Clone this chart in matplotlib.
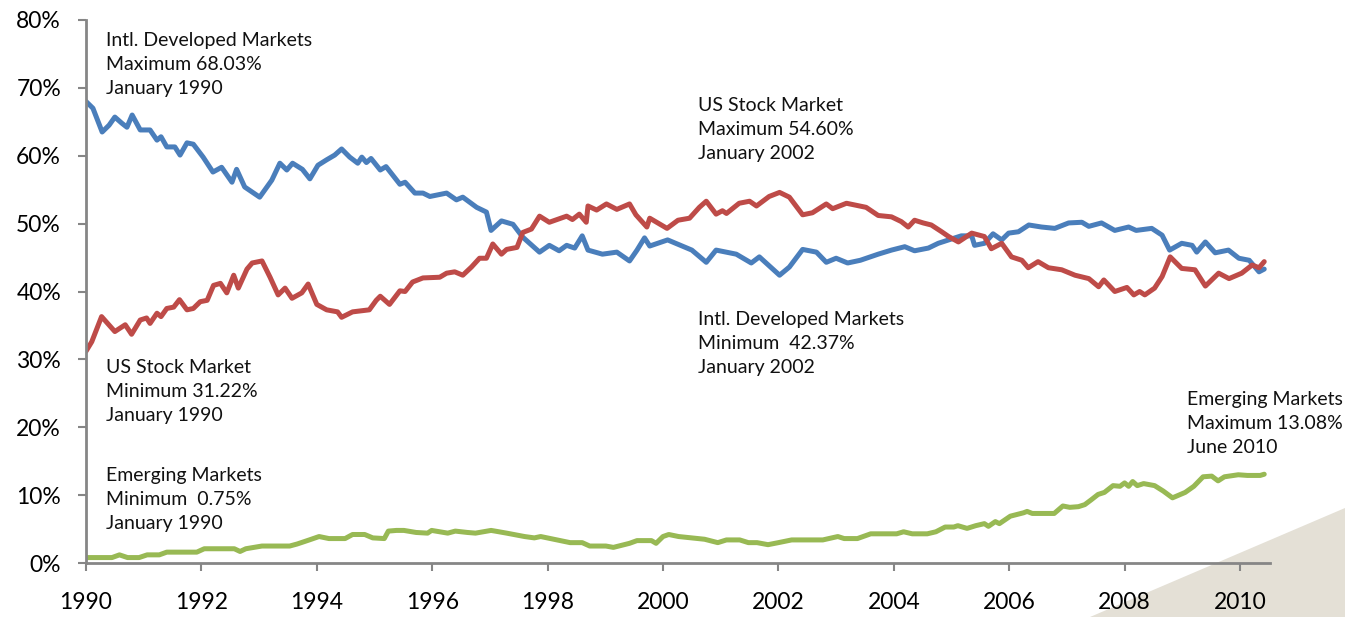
import numpy as np
import matplotlib.pyplot as plt
from matplotlib.patches import Polygon
from matplotlib.ticker import FuncFormatter, MultipleLocator

plt.rcParams['font.family'] = ['Lato', 'DejaVu Sans']

# share of global market cap (%)
intl_years = [1990.00, 1990.12, 1990.28, 1990.40, 1990.50, 1990.62, 1990.71, 1990.80, 1990.94,
              1991.11, 1991.23, 1991.30, 1991.40, 1991.54, 1991.63, 1991.75, 1991.86, 1992.03,
              1992.20, 1992.35, 1992.53, 1992.61, 1992.75, 1993.01, 1993.22, 1993.36, 1993.48,
              1993.58, 1993.75, 1993.88, 1994.02, 1994.17, 1994.31, 1994.43, 1994.57, 1994.71,
              1994.78, 1994.86, 1994.94, 1995.10, 1995.20, 1995.44, 1995.53, 1995.70, 1995.84,
              1995.96, 1996.25, 1996.42, 1996.53, 1996.77, 1996.94, 1997.02, 1997.20, 1997.40,
              1997.57, 1997.86, 1998.03, 1998.20, 1998.33, 1998.47, 1998.60, 1998.70, 1998.95,
              1999.20, 1999.42, 1999.55, 1999.68, 1999.77, 2000.08, 2000.50, 2000.75, 2000.92,
              2001.27, 2001.53, 2001.67, 2002.02, 2002.19, 2002.42, 2002.66, 2002.83, 2003.00,
              2003.20, 2003.42, 2003.73, 2003.96, 2004.19, 2004.36, 2004.60, 2004.77, 2004.95,
              2005.17, 2005.35, 2005.40, 2005.57, 2005.72, 2005.87, 2005.99, 2006.16, 2006.34,
              2006.56, 2006.79, 2007.03, 2007.26, 2007.38, 2007.60, 2007.83, 2008.07, 2008.20,
              2008.47, 2008.65, 2008.78, 2008.99, 2009.17, 2009.25, 2009.40, 2009.57, 2009.80,
              2009.98, 2010.16, 2010.33, 2010.42]
intl_vals = [68.0, 67.0, 63.5, 64.5, 65.7, 64.8, 64.2, 66.0, 63.8,
             63.8, 62.3, 62.8, 61.3, 61.3, 60.1, 61.9, 61.7, 59.8,
             57.6, 58.3, 56.1, 58.0, 55.4, 53.9, 56.4, 58.9, 57.9,
             58.9, 58.0, 56.6, 58.6, 59.4, 60.1, 61.0, 59.8, 58.9,
             59.8, 59.0, 59.6, 57.9, 58.4, 55.8, 56.1, 54.5, 54.5,
             54.0, 54.5, 53.5, 53.9, 52.4, 51.7, 49.0, 50.4, 49.9,
             48.0, 45.8, 46.8, 46.0, 46.8, 46.4, 48.2, 46.1, 45.5,
             45.8, 44.5, 46.1, 47.9, 46.7, 47.6, 46.1, 44.3, 46.1,
             45.5, 44.2, 45.1, 42.4, 43.6, 46.2, 45.8, 44.3, 44.9,
             44.2, 44.6, 45.5, 46.1, 46.6, 46.0, 46.4, 47.1, 47.6,
             48.2, 48.2, 46.8, 47.1, 48.5, 47.6, 48.6, 48.8, 49.8,
             49.5, 49.3, 50.1, 50.2, 49.6, 50.1, 49.0, 49.5, 49.0,
             49.3, 48.3, 46.1, 47.1, 46.8, 45.8, 47.3, 45.7, 46.1,
             44.9, 44.6, 42.9, 43.3]

us_years = [1990.00, 1990.10, 1990.27, 1990.50, 1990.68, 1990.79, 1990.94, 1991.05, 1991.11,
            1991.23, 1991.30, 1991.40, 1991.52, 1991.62, 1991.75, 1991.86, 1991.98, 1992.10,
            1992.21, 1992.33, 1992.44, 1992.56, 1992.64, 1992.79, 1992.88, 1993.05, 1993.19,
            1993.33, 1993.45, 1993.57, 1993.74, 1993.85, 1994.00, 1994.17, 1994.36, 1994.43,
            1994.62, 1994.91, 1995.03, 1995.10, 1995.26, 1995.44, 1995.53, 1995.66, 1995.84,
            1996.13, 1996.25, 1996.39, 1996.53, 1996.68, 1996.82, 1996.94, 1997.05, 1997.20,
            1997.29, 1997.47, 1997.57, 1997.72, 1997.86, 1998.03, 1998.33, 1998.43, 1998.55,
            1998.67, 1998.70, 1998.85, 1999.02, 1999.20, 1999.42, 1999.53, 1999.72, 1999.77,
            2000.07, 2000.26, 2000.46, 2000.63, 2000.75, 2000.92, 2001.03, 2001.10, 2001.32,
            2001.50, 2001.62, 2001.84, 2002.02, 2002.19, 2002.42, 2002.59, 2002.83, 2002.94,
            2003.18, 2003.52, 2003.73, 2003.96, 2004.13, 2004.25, 2004.36, 2004.51, 2004.65,
            2004.83, 2004.95, 2005.12, 2005.35, 2005.57, 2005.69, 2005.87, 2006.04, 2006.22,
            2006.33, 2006.50, 2006.68, 2006.91, 2007.14, 2007.38, 2007.55, 2007.64, 2007.83,
            2008.04, 2008.16, 2008.26, 2008.35, 2008.52, 2008.65, 2008.79, 2008.99, 2009.22,
            2009.40, 2009.63, 2009.81, 2010.03, 2010.21, 2010.33, 2010.42]
us_vals = [31.2, 32.6, 36.3, 34.1, 35.1, 33.7, 35.8, 36.1, 35.3,
           36.8, 36.3, 37.5, 37.7, 38.8, 37.3, 37.5, 38.5, 38.7,
           40.9, 41.2, 39.8, 42.4, 40.5, 43.3, 44.2, 44.5, 42.1,
           39.5, 40.5, 39.0, 39.8, 41.1, 38.1, 37.3, 37.0, 36.2,
           37.0, 37.3, 38.7, 39.3, 38.1, 40.1, 40.0, 41.4, 42.0,
           42.1, 42.7, 42.9, 42.4, 43.6, 44.9, 44.9, 47.0, 45.5,
           46.2, 46.5, 48.7, 49.2, 51.1, 50.2, 51.1, 50.6, 51.4,
           50.2, 52.6, 52.0, 52.9, 52.1, 52.9, 51.3, 49.5, 50.8,
           49.3, 50.5, 50.8, 52.4, 53.3, 51.4, 51.9, 51.5, 53.0,
           53.3, 52.6, 54.0, 54.6, 53.9, 51.3, 51.6, 52.9, 52.2,
           53.0, 52.4, 51.2, 51.0, 50.3, 49.5, 50.5, 50.1, 49.8,
           48.8, 48.1, 47.3, 48.6, 48.1, 46.3, 47.1, 45.1, 44.6,
           43.5, 44.4, 43.5, 43.2, 42.4, 41.9, 40.7, 41.7, 40.0,
           40.6, 39.5, 40.0, 39.5, 40.5, 42.2, 45.1, 43.4, 43.2,
           40.8, 42.7, 41.9, 42.7, 43.9, 43.5, 44.4]

em_years = [1990.00, 1990.45, 1990.58, 1990.72, 1990.92, 1991.06, 1991.27, 1991.40, 1991.92,
            1992.05, 1992.57, 1992.67, 1992.77, 1993.05, 1993.53, 1993.66, 1993.87, 1994.04,
            1994.21, 1994.49, 1994.62, 1994.83, 1994.97, 1995.17, 1995.24, 1995.38, 1995.51,
            1995.72, 1995.92, 1995.99, 1996.27, 1996.40, 1996.61, 1996.75, 1997.02, 1997.09,
            1997.29, 1997.60, 1997.77, 1997.88, 1998.05, 1998.39, 1998.60, 1998.73, 1999.01,
            1999.14, 1999.42, 1999.55, 1999.80, 1999.88, 2000.00, 2000.10, 2000.27, 2000.72,
            2000.95, 2001.10, 2001.33, 2001.48, 2001.63, 2001.82, 2002.00, 2002.23, 2002.77,
            2003.03, 2003.14, 2003.37, 2003.60, 2004.05, 2004.17, 2004.32, 2004.58, 2004.73,
            2004.89, 2005.04, 2005.11, 2005.27, 2005.42, 2005.57, 2005.64, 2005.76, 2005.83,
            2006.02, 2006.25, 2006.31, 2006.40, 2006.78, 2006.93, 2007.05, 2007.20, 2007.31,
            2007.42, 2007.54, 2007.65, 2007.80, 2007.92, 2008.00, 2008.07, 2008.14, 2008.22,
            2008.33, 2008.52, 2008.67, 2008.83, 2009.05, 2009.20, 2009.36, 2009.51, 2009.62,
            2009.73, 2009.89, 2009.97, 2010.13, 2010.35, 2010.42]
em_vals = [0.8, 0.8, 1.2, 0.8, 0.8, 1.2, 1.2, 1.6, 1.6,
           2.1, 2.1, 1.7, 2.1, 2.5, 2.5, 2.8, 3.4, 3.9,
           3.6, 3.6, 4.2, 4.2, 3.7, 3.6, 4.7, 4.8, 4.8,
           4.5, 4.4, 4.8, 4.4, 4.7, 4.5, 4.4, 4.8, 4.7,
           4.4, 3.9, 3.7, 3.9, 3.6, 3.0, 3.0, 2.5, 2.5,
           2.3, 2.9, 3.3, 3.3, 2.9, 3.9, 4.2, 3.9, 3.5,
           3.0, 3.4, 3.4, 3.0, 3.0, 2.7, 3.0, 3.4, 3.4,
           3.9, 3.6, 3.6, 4.3, 4.3, 4.6, 4.3, 4.3, 4.6,
           5.3, 5.3, 5.5, 5.1, 5.5, 5.8, 5.4, 6.1, 5.8,
           6.9, 7.4, 7.6, 7.3, 7.3, 8.4, 8.2, 8.3, 8.6,
           9.3, 10.1, 10.4, 11.4, 11.3, 11.8, 11.3, 12.0, 11.4,
           11.7, 11.4, 10.6, 9.6, 10.4, 11.3, 12.7, 12.8, 12.1,
           12.7, 12.9, 13.0, 12.9, 12.9, 13.08]

year_ticks = list(range(1990, 2011, 2))

notes = [
    (1990.35, 73.5, "Intl. Developed Markets\nMaximum 68.03%\nJanuary 1990"),
    (2000.6, 63.8, "US Stock Market\nMaximum 54.60%\nJanuary 2002"),
    (2000.6, 32.3, "Intl. Developed Markets\nMinimum  42.37%\nJanuary 2002"),
    (1990.35, 25.2, "US Stock Market\nMinimum 31.22%\nJanuary 1990"),
    (1990.35, 9.4, "Emerging Markets\nMinimum  0.75%\nJanuary 1990"),
    (2009.08, 20.5, "Emerging Markets\nMaximum 13.08%\nJune 2010"),
]

fig = plt.figure(figsize=(13.45, 6.17), dpi=100)

# beige corner triangle behind everything
tri = Polygon([(1090 / 1345, 0), (1, 0), (1, 109 / 617)], closed=True,
              transform=fig.transFigure, facecolor='#e4e0d6', edgecolor='none', zorder=-5)
fig.patches.append(tri)

ax = fig.add_axes([86 / 1345, 54 / 617, 1184 / 1345, 543 / 617])
ax.set_facecolor('none')

lw = 3.6
ax.plot(intl_years, intl_vals, color='#4a7ebb', lw=lw, solid_joinstyle='round', solid_capstyle='round')
ax.plot(us_years, us_vals, color='#be4b48', lw=lw, solid_joinstyle='round', solid_capstyle='round')
ax.plot(em_years, em_vals, color='#98b954', lw=lw, solid_joinstyle='round', solid_capstyle='round')

for x, y, s in notes:
    ax.text(x, y, s, ha='left', va='center', fontsize=14, linespacing=1.5, color='#111111')

ax.set_xlim(1990, 2010.52)
ax.set_ylim(0, 80)
ax.set_xticks(year_ticks)
ax.yaxis.set_major_locator(MultipleLocator(10))
ax.yaxis.set_major_formatter(FuncFormatter(lambda v, p: f"{v:.0f}%"))

for side in ['top', 'right']:
    ax.spines[side].set_visible(False)
for side in ['left', 'bottom']:
    ax.spines[side].set_color('#868686')
    ax.spines[side].set_linewidth(2)

ax.tick_params(axis='both', colors='#868686', width=1.5, length=6, labelcolor='black', labelsize=16.5)
ax.tick_params(axis='x', pad=15)
ax.tick_params(axis='y', pad=12)

fig.savefig('out.png', dpi=100)
